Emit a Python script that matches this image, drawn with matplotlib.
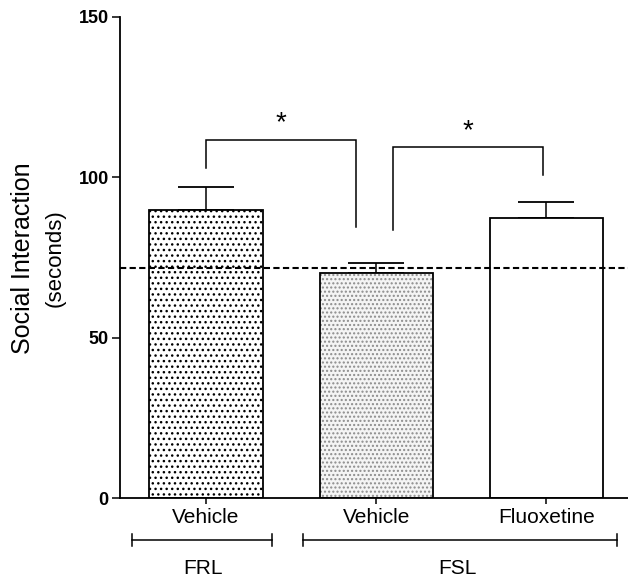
import matplotlib
matplotlib.use("Agg")
import matplotlib.pyplot as plt

plt.rcParams['font.family'] = ['Liberation Sans', 'DejaVu Sans']
plt.rcParams['hatch.linewidth'] = 1.0

# ---- data ----
categories = ["Vehicle", "Vehicle", "Fluoxetine"]
groups = ["FRL", "FSL"]
means = [89.7, 70.2, 87.3]
sem = [7.2, 3.0, 4.9]
baseline = 71.6
yticks = [0, 50, 100, 150]
# brackets: (left bar, right bar, top, left foot, right foot, star height)
brackets = [(0, 0.88, 111.5, 102.8, 84.4, 117.0),
            (1.1, 1.98, 109.6, 83.5, 100.6, 114.5)]

fig = plt.figure(figsize=(6.28, 5.82), dpi=100)
ax = fig.add_axes([0.191, 0.1443, 0.809, 0.8265])

x = list(range(len(categories)))
w = 0.665

# bar 1: dotted
ax.bar(x[0], means[0], w, facecolor='white', edgecolor='black', hatch='...',
       linewidth=1.3, zorder=2)
# bar 2: gray stipple
ax.bar(x[1], means[1], w, facecolor='#f4f4f4', edgecolor='#8c8c8c', hatch='....',
       linewidth=0, zorder=2)
ax.bar(x[1], means[1], w, fill=False, edgecolor='black', linewidth=1.3, zorder=3)
# bar 3: white
ax.bar(x[2], means[2], w, facecolor='white', edgecolor='black', linewidth=1.3, zorder=2)

ax.errorbar(x, means, yerr=[[0]*3, sem], fmt='none', ecolor='black',
            elinewidth=1.1, capsize=20.5, capthick=1.3, zorder=1)

ax.axhline(baseline, color='black', linestyle=(0, (3, 1.6)), linewidth=1.5, zorder=4)

for (xl, xr, top, fl, fr, sy) in brackets:
    ax.plot([xl, xl, xr, xr], [fl, top, top, fr], color='black', linewidth=1.1,
            solid_joinstyle='miter')
    ax.text((xl + xr) / 2, sy, '*', ha='center', va='center', fontsize=20)

ax.set_xlim(-0.506, 2.48)
ax.set_ylim(0, 150)
ax.set_yticks(yticks)
ax.set_yticklabels([str(v) for v in yticks], fontweight='bold', fontsize=13)
ax.set_xticks(x)
ax.set_xticklabels(categories, fontsize=15)
ax.tick_params(axis='y', length=6, width=1.1, pad=2)
ax.tick_params(axis='x', length=4, width=1.1, pad=3)
for s in ['top', 'right']:
    ax.spines[s].set_visible(False)
for s in ['left', 'bottom']:
    ax.spines[s].set_linewidth(1.3)
ax.spines['bottom'].set_clip_on(False)

# y label (two lines)
fig.text(0.037, 0.557, 'Social Interaction', rotation=90, ha='center', va='center',
         fontsize=18)
fig.text(0.088, 0.557, '(seconds)', rotation=90, ha='center', va='center',
         fontsize=16)

# group lines below axis
tr = ax.get_xaxis_transform()
gy = -0.0873
for (xa, xb), lab, lx in zip([(-0.435, 0.388), (0.571, 2.418)], groups, [-0.018, 1.476]):
    ax.plot([xa, xb], [gy, gy], color='black', linewidth=1.1, transform=tr, clip_on=False)
    for xe in (xa, xb):
        ax.plot([xe, xe], [gy - 0.012, gy + 0.012], color='black', linewidth=1.1,
                transform=tr, clip_on=False)
    ax.text(lx, -0.1455, lab, transform=tr, ha='center', va='center', fontsize=15)

fig.savefig('out.png', dpi=100)
